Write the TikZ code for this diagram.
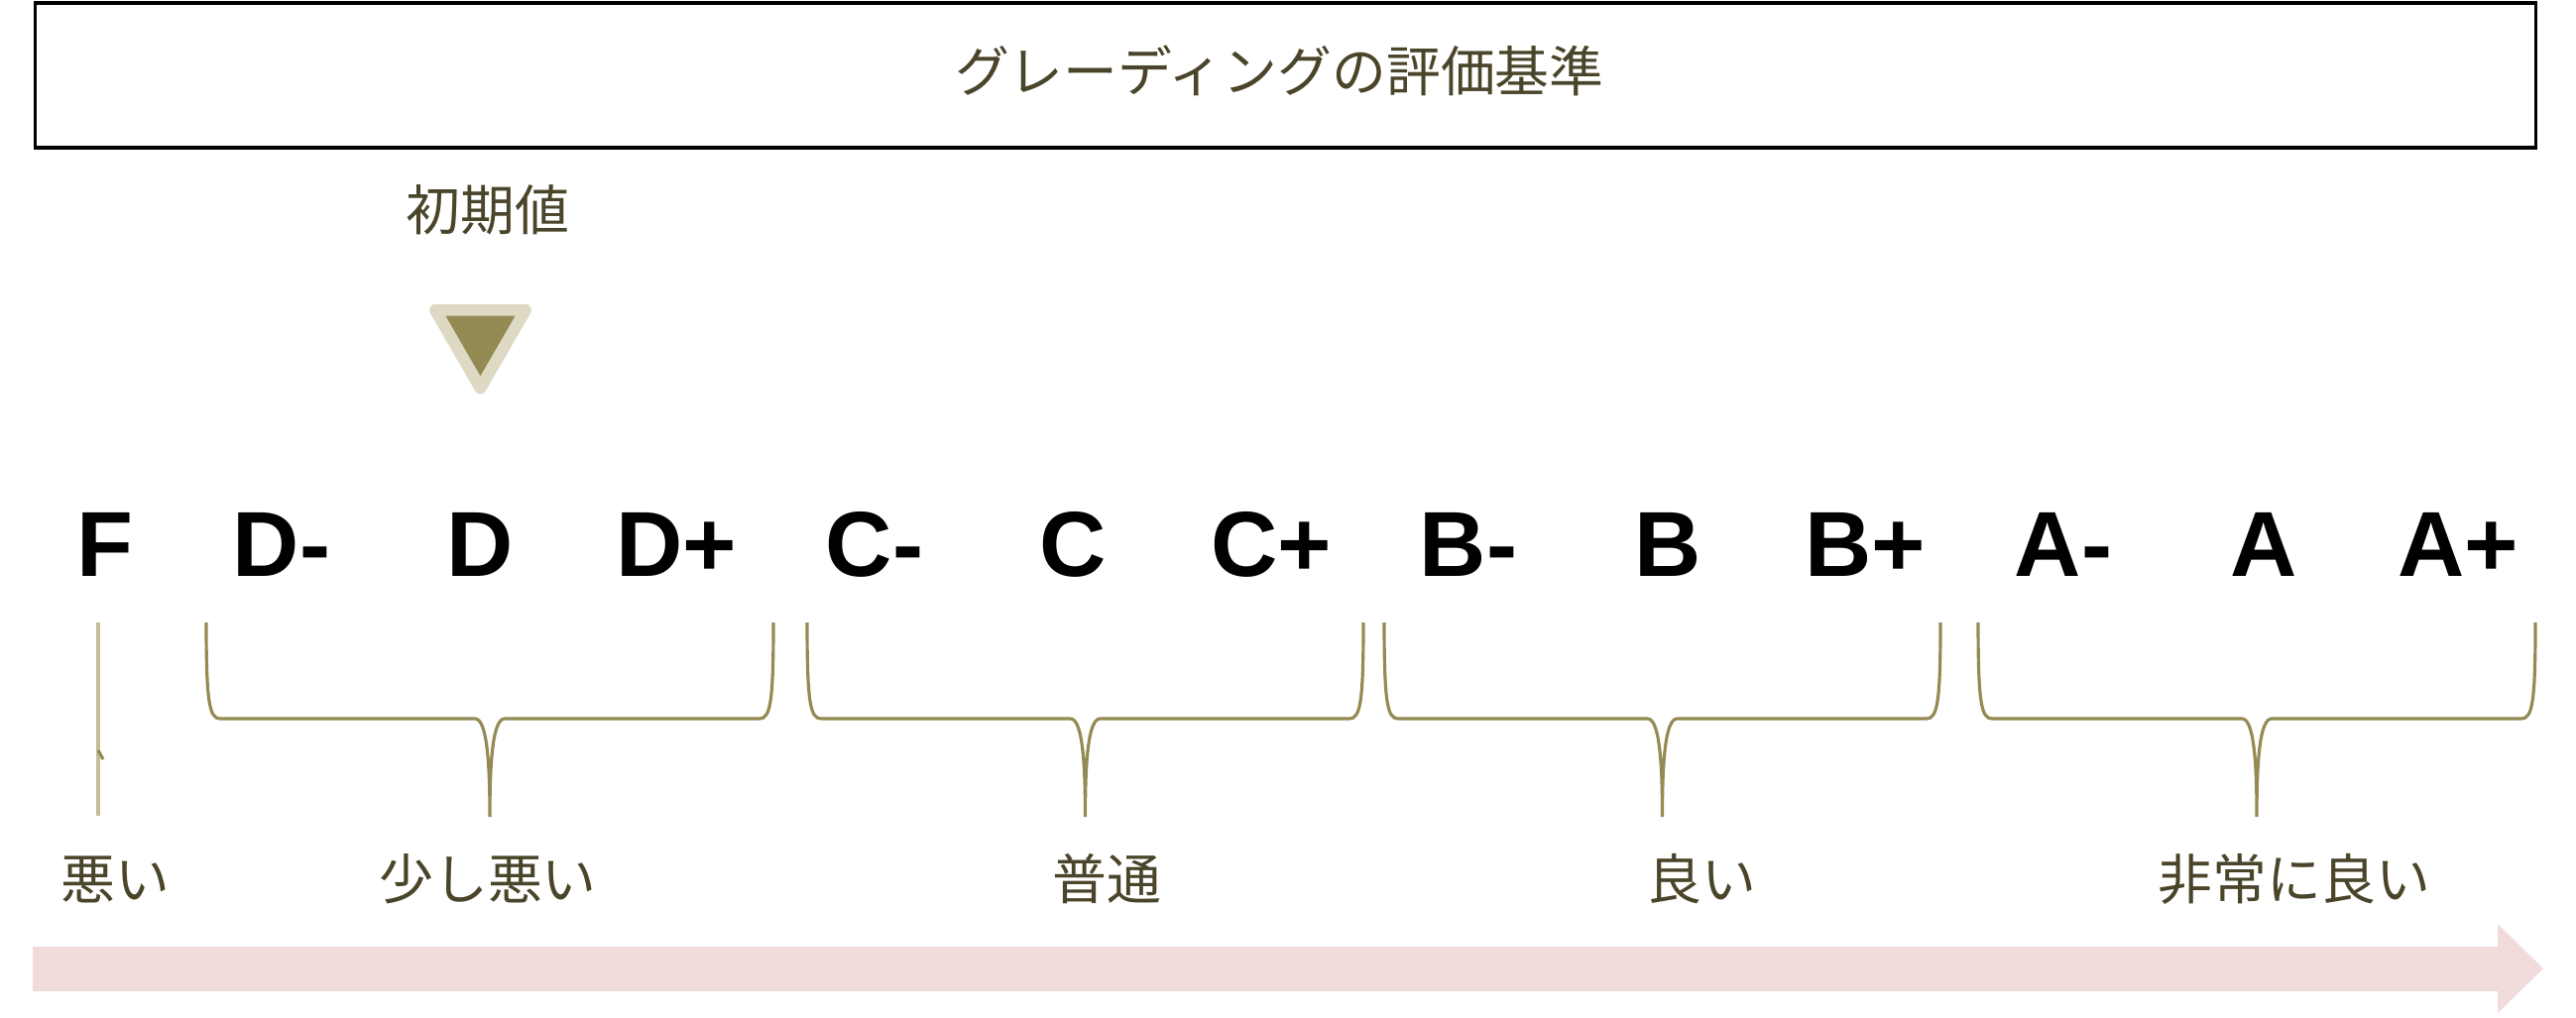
\documentclass[tikz,border=0pt]{standalone}
\usepackage{fontspec}
\setmainfont{Noto Sans CJK JP}
\newfontfamily\gradefont{Liberation Sans}
\usetikzlibrary{
  shapes.geometric,
  positioning,
  calc}

\definecolor{labelcolor}{RGB}{74,69,42}
\definecolor{bracecolor}{RGB}{148,138,84}
\definecolor{markercolor}{RGB}{148,138,84}
\definecolor{markerrim}{RGB}{221,217,195}
\definecolor{fcolor}{RGB}{196,189,151}
\definecolor{arrowcolor}{RGB}{242,220,219}

\tikzset{
  %% heading : the box with the title
  heading/.style={
    rectangle,
    draw=black,
    line width=0.9pt,
    minimum width=25.21cm,
    minimum height=1.46cm,
    text=labelcolor,
    font=\fontsize{15.6pt}{18pt}\selectfont,
    align=center
  },
  %% jplabel : japanese texts
  jplabel/.style={
    text=labelcolor,
    inner sep=0pt,
    font=\fontsize{15.6pt}{18pt}\selectfont
  },
  %% grade : one grade letter
  grade/.style={
    anchor=base,
    inner sep=0pt,
    text=black,
    font=\gradefont\bfseries\fontsize{26.5pt}{30pt}\selectfont
  },
  %% marker : triangle that marks the start value
  marker/.style={
    regular polygon,
    regular polygon sides=3,
    shape border rotate=180,
    minimum size=1.05cm,
    inner sep=0pt,
    fill=markercolor,
    draw=markerrim,
    line width=3.4pt,
    line join=round
  },
  %% brace : curly bracket under a group
  brace/.style={bracecolor, line width=0.9pt},
  %% fline : the single line under F
  fline/.style={fcolor, line width=0.9pt},
  %% gradebrace : use as \pic at (tip top) {gradebrace=half width};
  pics/gradebrace/.style={code={
    \draw [brace] (-#1, 0)
      .. controls (-#1, 80) and (-#1+3, 97) .. (-#1+14, 97)
      -- (-15, 97)
      .. controls (-3, 97) and (0, 140) .. (0, 196)
      .. controls (0, 140) and (3, 97) .. (15, 97)
      -- (#1-14, 97)
      .. controls (#1-3, 97) and (#1, 80) .. (#1, 0);
  }}
}

\begin{document}
\begin{tikzpicture}
  [x=0.01cm,
  y=-0.01cm]

  \useasboundingbox (0, 0) rectangle (2598, 1026);

  %% Title
  \node (title) [heading] at (1296.5, 76) {%
    \raisebox{0.14cm}{グレーディングの評価基準}
  };

  %% Start value
  \node (initval) [jplabel] at (492, 212) {%
    初期値
  };
  \node (marker) [marker] at (484.5, 339) {};

  %% Grades
  \node (gF)  [grade] at (106, 581) {F};
  \node (gDm) [grade] at (284, 581) {D-};
  \node (gD)  [grade] at (484, 581) {D};
  \node (gDp) [grade] at (682, 581) {D+};
  \node (gCm) [grade] at (882, 581) {C-};
  \node (gC)  [grade] at (1082, 581) {C};
  \node (gCp) [grade] at (1282, 581) {C+};
  \node (gBm) [grade] at (1481, 581) {B-};
  \node (gB)  [grade] at (1682, 581) {B};
  \node (gBp) [grade] at (1881, 581) {B+};
  \node (gAm) [grade] at (2081, 581) {A-};
  \node (gA)  [grade] at (2283, 581) {A};
  \node (gAp) [grade] at (2479, 581) {A+};

  %% Braces
  \draw [fline] (99, 628) -- (99, 823);
  \draw [brace] (99, 757) -- (104, 766);
  \pic (bD) at (494, 628) {gradebrace=286};
  \pic (bC) at (1094.5, 628) {gradebrace=280.5};
  \pic (bB) at (1676.5, 628) {gradebrace=280.5};
  \pic (bA) at (2276, 628) {gradebrace=281};

  %% Group labels
  \node (lF) [jplabel] at (116, 887) {悪い};
  \node (lD) [jplabel] at (492, 887) {少し悪い};
  \node (lC) [jplabel] at (1116, 887) {普通};
  \node (lB) [jplabel] at (1716, 887) {良い};
  \node (lA) [jplabel] at (2314, 887) {非常に良い};

  %% Arrow
  \fill [arrowcolor] (33, 955) -- (2519, 955) -- (2519, 932)
  -- (2565, 977) -- (2519, 1022) -- (2519, 1000) -- (33, 1000) -- cycle;

\end{tikzpicture}
\end{document}
